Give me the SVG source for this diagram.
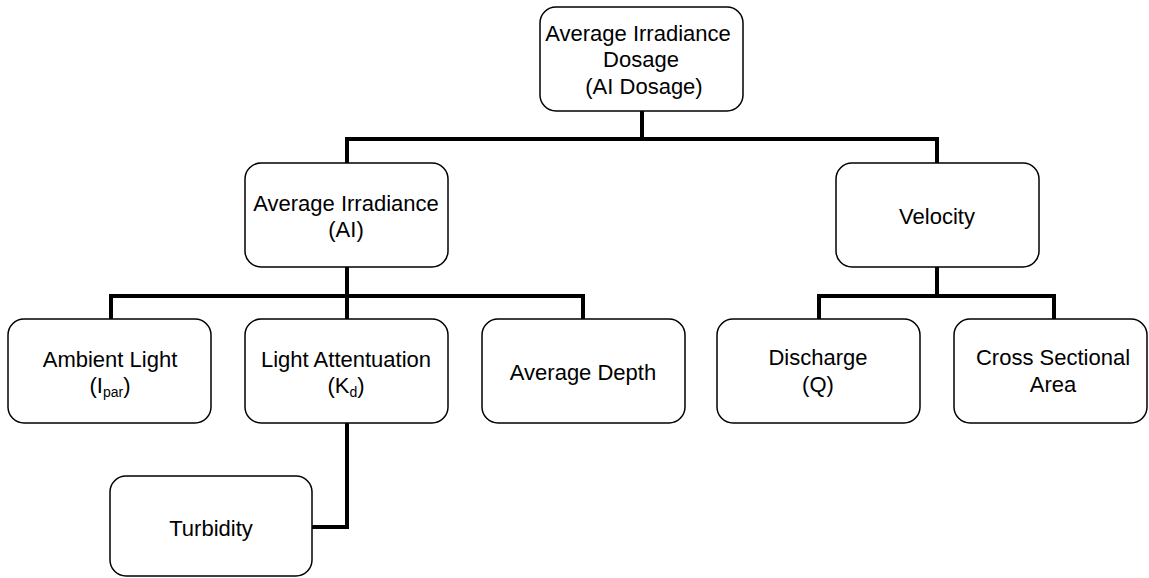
<svg xmlns="http://www.w3.org/2000/svg" width="1149" height="578" viewBox="0 0 1149 578">
<style>
.box{fill:#fff;stroke:#000;stroke-width:1.5}
.t{font-family:"Liberation Sans",Arial,sans-serif;font-size:22px;fill:#000;text-anchor:middle}
.sub{font-size:14px}
.c{fill:none;stroke:#000;stroke-width:4;stroke-linejoin:miter;stroke-linecap:butt}
</style>
<rect width="1149" height="578" fill="#fff"/>
<g id="connectors">
<path class="c" d="M642 111V139M347 163V139H937V163"/>
<path class="c" d="M347 267V296M111 319V296H583V319M347 296V319"/>
<path class="c" d="M937 267V296M819 319V296H1054V319"/>
<path class="c" d="M347 423V527H312"/>
</g>
<g id="n-aidosage">
<rect class="box" x="540" y="7" width="203" height="104" rx="16"/>
<text class="t" x="638" y="41">Average Irradiance</text>
<text class="t" x="641" y="67">Dosage</text>
<text class="t" x="644" y="94">(AI Dosage)</text>
</g>
<g id="n-ai">
<rect class="box" x="245" y="163" width="203" height="104" rx="16"/>
<text class="t" x="346" y="211">Average Irradiance</text>
<text class="t" x="346" y="237">(AI)</text>
</g>
<g id="n-velocity">
<rect class="box" x="836" y="163" width="203" height="104" rx="16"/>
<text class="t" x="937" y="224">Velocity</text>
</g>
<g id="n-ambient">
<rect class="box" x="8" y="319" width="203" height="104" rx="16"/>
<text class="t" x="110" y="367">Ambient Light</text>
<text class="t" x="110" y="393">(I<tspan class="sub" dy="4">par</tspan><tspan dy="-4">)</tspan></text>
</g>
<g id="n-kd">
<rect class="box" x="245" y="319" width="203" height="104" rx="16"/>
<text class="t" x="346" y="367">Light Attentuation</text>
<text class="t" x="346" y="393">(K<tspan class="sub" dy="4">d</tspan><tspan dy="-4">)</tspan></text>
</g>
<g id="n-depth">
<rect class="box" x="482" y="319" width="203" height="104" rx="16"/>
<text class="t" x="583" y="380">Average Depth</text>
</g>
<g id="n-discharge">
<rect class="box" x="717" y="319" width="203" height="104" rx="16"/>
<text class="t" x="818" y="365">Discharge</text>
<text class="t" x="818" y="392">(Q)</text>
</g>
<g id="n-area">
<rect class="box" x="954" y="319" width="193" height="104" rx="16"/>
<text class="t" x="1053" y="365">Cross Sectional</text>
<text class="t" x="1053" y="392">Area</text>
</g>
<g id="n-turbidity">
<rect class="box" x="110" y="476" width="202" height="100" rx="16"/>
<text class="t" x="211" y="536">Turbidity</text>
</g>
</svg>
